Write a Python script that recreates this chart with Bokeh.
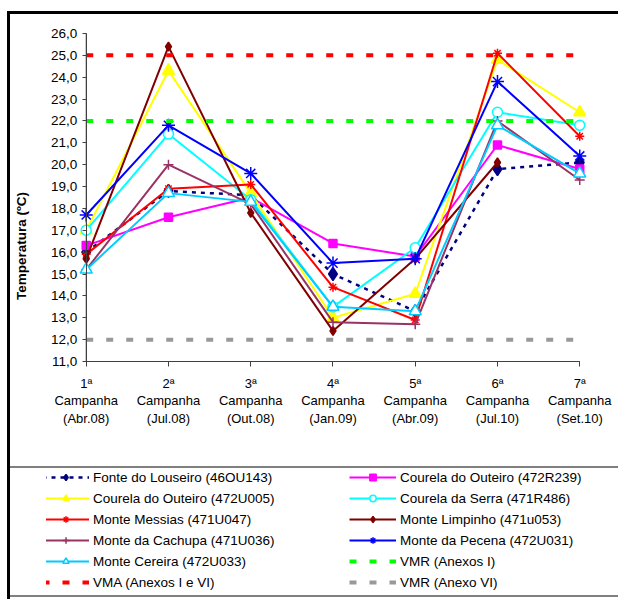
from bokeh.plotting import figure
from bokeh.layouts import column
from bokeh.models import Range1d, FixedTicker, Legend, LegendItem, LinearAxis
from bokeh.embed import file_html
from bokeh.resources import INLINE

nan = float("nan")

campanhas = [1, 2, 3, 4, 5, 6, 7]
x_labels = ["1ª\nCampanha\n(Abr.08)", "2ª\nCampanha\n(Jul.08)", "3ª\nCampanha\n(Out.08)",
            "4ª\nCampanha\n(Jan.09)", "5ª\nCampanha\n(Abr.09)", "6ª\nCampanha\n(Jul.10)",
            "7ª\nCampanha\n(Set.10)"]
y_ticks = [11, 12, 13, 14, 15, 16, 17, 18, 19, 20, 21, 22, 23, 24, 25, 26]
y_labels = ["11,0", "12,0", "13,0", "14,0", "15,0", "16,0", "17,0", "18,0",
            "19,0", "20,0", "21,0", "22,0", "23,0", "24,0", "25,0", "26,0"]

fonte_louseiro = [16.0, 18.8, 18.6, 15.0, 13.3, 19.8, 20.1]
courela_outeiro_r239 = [16.3, 17.6, 18.5, 16.4, 15.8, 20.9, 19.8]
courela_outeiro_u005 = [17.0, 24.3, 18.7, 13.0, 14.1, 24.8, 22.4]
courela_serra = [17.0, 21.4, 18.4, 13.5, 16.2, 22.4, 21.8]
monte_messias = [15.9, 18.9, 19.1, 14.4, 12.9, 25.1, 21.3]
monte_limpinho = [15.7, 25.4, 17.8, 12.4, 15.7, 20.1, nan]
monte_cachupa = [15.2, 20.0, 18.2, 12.8, 12.7, 22.0, 19.3]
monte_pecena = [17.7, 21.8, 19.6, 15.5, 15.7, 23.8, 20.4]
monte_cereira = [15.2, 18.7, 18.3, 13.5, 13.3, 21.8, 19.6]
vmr_anexos_i = [22.0, 22.0, 22.0, 22.0, 22.0, 22.0, 22.0]
vma_anexos_i_vi = [25.0, 25.0, 25.0, 25.0, 25.0, 25.0, 25.0]
vmr_anexo_vi = [12.0, 12.0, 12.0, 12.0, 12.0, 12.0, 12.0]

FONT = "Liberation Sans"

# page offsets taken by the outer black border (margin 7/11 + 3px line)
OX, OY = 10, 14
CW = 618 - OX
H_TOP = 466 - OY
H_LEG = 599 - 466

# frame (page px): larger than the axes box so axis texts are not clipped
FL, FR = 42, 612
FT, FB = 25, 466
AX0, AX1 = 82, 579          # page x of campaign 1 and 7
AY0, AY1 = 361, 33          # page y of 11 and 26
px_x = (AX1 - AX0) / 6.0
px_y = (AY0 - AY1) / 15.0

p = figure(width=CW, height=H_TOP, output_backend="svg", toolbar_location=None,
           x_range=Range1d(1 - (AX0 - FL) / px_x, 7 + (FR - AX1) / px_x),
           y_range=Range1d(11 - (FB - AY0) / px_y, 26 + (AY1 - FT) / px_y),
           x_axis_location=None, y_axis_location=None,
           min_border_left=FL - OX, min_border_right=CW - (FR - OX),
           min_border_top=FT - OY, min_border_bottom=H_TOP - (FB - OY))
p.outline_line_color = None
p.border_fill_alpha = 0
p.background_fill_alpha = 0
p.xgrid.visible = False
p.ygrid.visible = False

# x axis at y = 11
xax = LinearAxis(fixed_location=11, bounds=(1, 7), ticker=FixedTicker(ticks=campanhas),
                 major_label_overrides=dict(zip(campanhas, x_labels)),
                 major_tick_in=0, major_tick_out=5, minor_tick_in=0, minor_tick_out=0,
                 major_label_standoff=9, major_label_text_font=FONT,
                 major_label_text_font_size="13px", major_label_text_color="black",
                 major_label_text_line_height=1.17,
                 axis_line_color="#404040", major_tick_line_color="#404040")
p.add_layout(xax, "below")

# y axis at campaign 1
yax = LinearAxis(fixed_location=1, bounds=(11, 26), ticker=FixedTicker(ticks=y_ticks),
                 major_label_overrides=dict(zip(y_ticks, y_labels)),
                 major_tick_in=0, major_tick_out=4, minor_tick_in=0, minor_tick_out=0,
                 major_label_standoff=5, major_label_text_font=FONT,
                 major_label_text_font_size="13.5px", major_label_text_color="black",
                 axis_line_color="#404040", major_tick_line_color="#404040")
p.add_layout(yax, "left")

# axis lines also as plain lines, in case
p.line([campanhas[0], campanhas[0]], [y_ticks[0], y_ticks[-1]], line_color="#404040",
       line_width=1)
p.line([campanhas[0], campanhas[-1]], [y_ticks[0], y_ticks[0]], line_color="#404040",
       line_width=1)

# y title on its own tick-less axis
ytitle = LinearAxis(ticker=FixedTicker(ticks=[]), bounds=(11.6, 26),
                    axis_label="Temperatura (ºC)",
                    axis_line_color=None, major_tick_in=0, major_tick_out=0,
                    minor_tick_in=0, minor_tick_out=0, major_label_standoff=0,
                    axis_label_standoff=18, axis_label_text_font=FONT,
                    axis_label_text_font_style="bold",
                    axis_label_text_font_size="13.5px",
                    axis_label_text_color="black")
p.add_layout(ytitle, "left")

series = [
    ("Fonte do Louseiro (46OU143)", fonte_louseiro, "#000080", "4 5", 2.5,
     "diamond", 13, "#000080"),
    ("Courela do Outeiro (472R239)", courela_outeiro_r239, "#FF00FF", "solid", 2,
     "square", 8, "#FF00FF"),
    ("Courela do Outeiro (472U005)", courela_outeiro_u005, "#FFFF00", "solid", 2,
     "triangle", 12, "#FFFF00"),
    ("Courela da Serra (471R486)", courela_serra, "#00FFFF", "solid", 2,
     "circle", 10, "white"),
    ("Monte Messias (471U047)", monte_messias, "#FF0000", "solid", 2,
     "asterisk", 9, "#FF0000"),
    ("Monte Limpinho (471u053)", monte_limpinho, "#800000", "solid", 2,
     "diamond", 9, "#800000"),
    ("Monte da Cachupa (471U036)", monte_cachupa, "#993366", "solid", 2,
     "cross", 10, "#993366"),
    ("Monte da Pecena (472U031)", monte_pecena, "#0000FF", "solid", 2,
     "asterisk", 13, "#0000FF"),
    ("Monte Cereira (472U033)", monte_cereira, "#00CCFF", "solid", 2,
     "triangle", 12, "white"),
]
refs = [
    ("VMR (Anexos I)", vmr_anexos_i, "#00FF00"),
    ("VMA (Anexos I e VI)", vma_anexos_i_vi, "#FF0000"),
    ("VMR (Anexo VI)", vmr_anexo_vi, "#999999"),
]


def draw(fig):
    items = []
    for name, vals, col, dash, lw, mk, sz, fill in series:
        rl = fig.line(campanhas, vals, line_color=col, line_width=lw, line_dash=dash)
        rs = fig.scatter(campanhas, vals, marker=mk, size=sz, line_color=col,
                         fill_color=fill, line_width=1.5)
        items.append(LegendItem(label=name, renderers=[rl, rs]))
    for name, vals, col in refs:
        rl = fig.line(campanhas, vals, line_color=col, line_width=4, line_dash="7 13")
        items.append(LegendItem(label=name, renderers=[rl]))
    return items


draw(p)

# legend figure: same series, its ranges keep the data out of view
q = figure(width=CW, height=H_LEG, output_backend="svg", toolbar_location=None,
           x_range=Range1d(100, 200), y_range=Range1d(100, 200),
           x_axis_location=None, y_axis_location=None,
           min_border_left=FL - OX, min_border_right=CW - (FR - OX),
           min_border_top=0, min_border_bottom=0)
q.xgrid.visible = False
q.ygrid.visible = False
q.outline_line_color = None
q.border_fill_alpha = 0
q.background_fill_alpha = 0
leg_items = draw(q)


def make_legend(its, x):
    return Legend(items=its, location=(x, 9), orientation="vertical",
                  glyph_width=47, glyph_height=16, label_height=16,
                  label_standoff=4, spacing=5, padding=0, margin=0,
                  border_line_color=None, background_fill_alpha=0,
                  label_text_font=FONT, label_text_font_size="13.5px",
                  label_text_color="black")


q.add_layout(make_legend(leg_items[0::2], 43 - FL - 5))
q.add_layout(make_legend(leg_items[1::2], 350 - FL - 5))

grey = "linear-gradient(#808080, #808080)"
layout = column(p, q, spacing=0,
                styles={"margin-left": "7px", "margin-top": "11px",
                        "border-left": "3px solid black",
                        "border-top": "3px solid black",
                        "background": f"{grey} 0 {466 - OY}px / 100% 2px no-repeat, "
                                      f"{grey} 0 {595 - OY}px / 100% 2px no-repeat, white"})

open("out.html", "w").write(file_html(layout, INLINE))
